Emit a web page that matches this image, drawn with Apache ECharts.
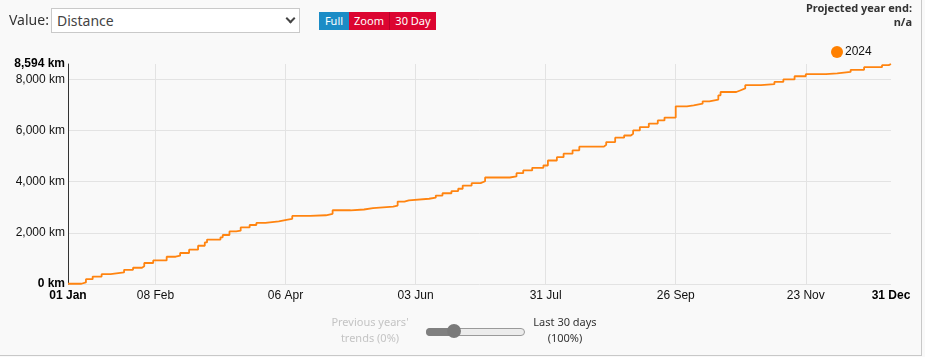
<!DOCTYPE html>
<html>
<head>
<meta charset="utf-8">
<script src="https://cdn.jsdelivr.net/npm/echarts@6.0.0/dist/echarts.min.js"></script>
<style>
  html, body { margin:0; padding:0; width:925px; height:357px; background:#f9f9f9; overflow:hidden; }
  #wrap { position:absolute; left:0; top:0; width:921px; height:355px; border-right:1px solid #c8c8c8; border-bottom:1px solid #c8c8c8; }
  #chart { position:absolute; left:0; top:0; width:925px; height:357px; }
  .ui { position:absolute; font-family:"Noto Sans","Open Sans",sans-serif; }
  #lbl { left:9px; top:10px; font-size:14px; color:#333; }
  #sel { left:51px; top:8px; width:242px; height:23px; background:#fff; border:1px solid #c9c9c9; font-size:14px; color:#444; line-height:23px; padding-left:5px; box-sizing:content-box; }
  #chev { position:absolute; left:287px; top:15px; width:5px; height:5px; border-right:2px solid #444; border-bottom:2px solid #444; transform:rotate(45deg); }
  .btn { position:absolute; top:12px; height:18px; line-height:18px; font-size:11px; color:#fff; text-align:center; font-family:"Noto Sans","Open Sans",sans-serif; }
  #bFull { left:319px; width:30px; background:#1b8cc6; }
  #bZoom { left:349px; width:40px; background:#dc0531; border-right:1px solid #b8002a; }
  #b30 { left:390px; width:46px; background:#dc0531; }
  #proj { right:13px; top:1px; text-align:right; font-size:11px; font-weight:bold; color:#333; line-height:14px; }
  #prev { left:325px; top:314px; width:90px; text-align:center; font-size:11px; color:#c4c4c4; line-height:16px; }
  #last { left:520px; top:314px; width:90px; text-align:center; font-size:11px; color:#333; line-height:16px; }
  #track { position:absolute; left:426px; top:328px; width:97px; height:6px; border:1px solid #9a9a9a; border-radius:4px; background:#ececec; }
  #trackL { position:absolute; left:426px; top:328px; width:28px; height:8px; border-radius:4px 0 0 4px; background:#808080; }
  #knob { position:absolute; left:447px; top:324px; width:14px; height:14px; border-radius:7px; background:#7a7a7a; }
</style>
</head>
<body>
<div id="wrap"></div>
<div id="chart"></div>
<div class="ui" id="lbl">Value:</div>
<div class="ui" id="sel">Distance</div>
<div id="chev"></div>
<div class="btn" id="bFull">Full</div>
<div class="btn" id="bZoom">Zoom</div>
<div class="btn" id="b30">30 Day</div>
<div class="ui" id="proj">Projected year end:<br>n/a</div>
<div class="ui" id="prev">Previous years'<br>trends (0%)</div>
<div id="track"></div>
<div id="trackL"></div>
<div id="knob"></div>
<div class="ui" id="last">Last 30 days<br>(100%)</div>
<script>
// Series name
const seriesName = '2024';
// Cumulative distance: day number (axis position, 01 Jan = 0) and km total
const days = [0, 6, 8, 11, 15, 19, 25, 29, 33, 34, 38, 44, 48, 50, 54, 58, 61, 62, 68, 69, 72, 75,
  77, 81, 84, 88, 94, 98, 100, 108, 115, 118, 126, 132, 136, 145, 147, 150, 152,
  161, 164, 167, 171, 174, 176, 180, 184, 186, 197, 200, 203, 207, 212, 214, 218, 221, 225, 228,
  239, 240, 244, 248, 251, 252, 255, 259, 263, 266, 271, 276, 279, 283, 286, 290, 291, 298, 300, 302,
  309, 315, 319, 324, 329, 338, 343, 349, 355, 363, 366, 367];
const km = [10, 60, 190, 290, 385, 450, 555, 635, 690, 820, 920, 1065, 1105, 1210, 1340, 1495, 1625, 1735, 1825, 1915, 2055, 2085,
  2210, 2305, 2385, 2450, 2515, 2545, 2660, 2685, 2740, 2880, 2910, 2960, 3025, 3065, 3220, 3270, 3330,
  3370, 3455, 3545, 3630, 3720, 3845, 3940, 4015, 4160, 4200, 4330, 4435, 4540, 4630, 4825, 4955, 5090, 5220, 5365,
  5440, 5545, 5715, 5800, 5870, 6000, 6130, 6265, 6390, 6500, 6940, 6980, 7045, 7135, 7205, 7370, 7500, 7570, 7640, 7765,
  7805, 7895, 7990, 8115, 8195, 8230, 8285, 8365, 8470, 8550, 8594, 8594];
// X axis ticks
const xTickDays = [0, 39, 97, 155, 213, 271, 329, 367];
const xTickLabels = ['01 Jan', '08 Feb', '06 Apr', '03 Jun', '31 Jul', '26 Sep', '23 Nov', '31 Dec'];
// Y axis ticks
const yTicks = [0, 2000, 4000, 6000, 8000];
const yMax = 8594;

const data = days.map((d, i) => [d, km[i]]);
const fmtKm = v => v.toLocaleString('en-US') + ' km';

const chart = echarts.init(document.getElementById('chart'), null, {renderer: 'canvas'});
chart.setOption({
  animation: false,
  backgroundColor: 'transparent',
  textStyle: { fontFamily: 'Liberation Sans, Arial, sans-serif' },
  grid: { left: 68, right: 34, top: 64, bottom: 73, containLabel: false },
  legend: {
    data: [{ name: seriesName, icon: 'circle' }],
    left: 826, top: 41, itemWidth: 12, itemHeight: 12, itemGap: 4,
    textStyle: { color: '#111', fontSize: 12, fontFamily: 'Liberation Sans, Arial, sans-serif', padding: [0, 0, 0, -3] }
  },
  xAxis: {
    type: 'value', min: xTickDays[0], max: xTickDays[xTickDays.length - 1],
    axisLine: { show: false },
    axisTick: { show: false, customValues: xTickDays.slice(1, -1) },
    splitLine: { show: true, lineStyle: { color: '#e3e3e3', width: 1 } },
    axisLabel: {
      customValues: xTickDays, margin: 6, color: '#111', fontSize: 12,
      fontFamily: 'Liberation Sans, Arial, sans-serif',
      formatter: v => {
        const i = xTickDays.indexOf(v);
        const t = i >= 0 ? xTickLabels[i] : '';
        return (i === 0 || i === xTickDays.length - 1) ? '{b|' + t + '}' : t;
      },
      rich: { b: { fontWeight: 'bold', fontSize: 12, color: '#000', fontFamily: 'Liberation Sans, Arial, sans-serif' } }
    }
  },
  yAxis: {
    type: 'value', min: 0, max: yMax,
    axisLine: { show: true, lineStyle: { color: '#333', width: 1 } },
    axisTick: { show: false, customValues: yTicks },
    splitLine: { show: true, lineStyle: { color: '#e3e3e3', width: 1 } },
    axisLabel: {
      customValues: yTicks.concat([yMax]), margin: 3, color: '#111', fontSize: 12,
      fontFamily: 'Liberation Sans, Arial, sans-serif',
      formatter: v => (v === 0 || v === yMax) ? '{b|' + fmtKm(v) + '}' : fmtKm(v),
      rich: { b: { fontWeight: 'bold', fontSize: 12, color: '#000', fontFamily: 'Liberation Sans, Arial, sans-serif' } }
    }
  },
  series: [{
    name: seriesName, type: 'line', step: 'end', data: data,
    showSymbol: false, symbol: 'circle',
    lineStyle: { color: '#ff8410', width: 1.8 },
    itemStyle: { color: '#ff8000' }
  }]
});
</script>
</body>
</html>
